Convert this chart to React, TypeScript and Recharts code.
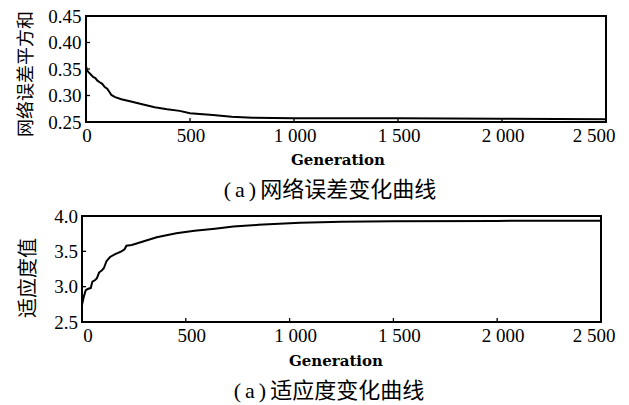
import { LineChart, Line, XAxis, YAxis, ReferenceArea } from 'recharts';

// 网络误差平方和 curve
const errGen = [0, 4, 12, 22, 34, 45, 55, 66, 78, 90, 102, 112, 122, 140, 170, 211, 275, 330, 390, 450, 500, 610, 700, 800, 900, 1000, 1250, 1500, 2000, 2500];
const errVal = [0.356, 0.348, 0.344, 0.340, 0.335, 0.333, 0.328, 0.325, 0.322, 0.316, 0.313, 0.307, 0.301, 0.297, 0.293, 0.289, 0.283, 0.278, 0.274, 0.271, 0.2665, 0.263, 0.260, 0.258, 0.2575, 0.257, 0.257, 0.257, 0.256, 0.255];

// 适应度值 curve
const fitGen = [0, 8, 18, 30, 42, 50, 62, 72, 82, 95, 105, 118, 135, 160, 190, 205, 214, 240, 294, 360, 454, 542, 640, 729, 850, 1050, 1250, 1500, 2000, 2500];
const fitVal = [2.74, 2.85, 2.95, 2.97, 2.98, 3.07, 3.09, 3.12, 3.2, 3.23, 3.26, 3.36, 3.42, 3.46, 3.5, 3.53, 3.58, 3.59, 3.64, 3.7, 3.755, 3.79, 3.82, 3.85, 3.875, 3.905, 3.918, 3.926, 3.931, 3.933];

const genTicks = [0, 500, 1000, 1500, 2000, 2500];
const errTicks = [0.25, 0.3, 0.35, 0.4, 0.45];
const fitTicks = [2.5, 3.0, 3.5, 4.0];

const errData = errGen.map((g, i) => ({ gen: g, v: errVal[i] }));
const fitData = fitGen.map((g, i) => ({ gen: g, v: fitVal[i] }));

const serif = '"Liberation Serif", "Times New Roman", serif';
const cjk = '"Noto Sans CJK SC", sans-serif';

const fmtGen = (v: number) =>
  v >= 1000 ? `${Math.floor(v / 1000)} ${String(v % 1000).padStart(3, '0')}` : String(v);

const makeXTick = (dxOther: number, dxLast: number) => (props: any) => {
  const { x, y, payload } = props;
  const dx = payload.value === 2500 ? dxLast : dxOther;
  return (
    <text x={x + dx} y={y} dy="0.71em" textAnchor="middle" fontSize={19} fontFamily={serif} fill="#000">
      {fmtGen(payload.value)}
    </text>
  );
};

const tickStyle = { fontSize: 19, fontFamily: serif, fill: '#000' };
const inTick = { stroke: '#000', strokeWidth: 1.3 };

const rotLabel = (text: string, cx: number, cy: number, size: number) => (
  <div
    style={{
      position: 'absolute',
      left: cx,
      top: cy,
      transform: 'translate(-50%, -50%) rotate(-90deg)',
      whiteSpace: 'nowrap',
      fontFamily: cjk,
      fontSize: size,
      lineHeight: 1,
      color: '#000',
    }}
  >
    {text}
  </div>
);

const centerText = (content: any, cx: number, cy: number, style: any) => (
  <div
    style={{
      position: 'absolute',
      left: cx,
      top: cy,
      transform: 'translate(-50%, -50%)',
      whiteSpace: 'nowrap',
      lineHeight: 1,
      color: '#000',
      ...style,
    }}
  >
    {content}
  </div>
);

export default function App() {
  return (
    <div style={{ position: 'absolute', left: 0, top: 0, width: 629, height: 405, background: '#fff', overflow: 'hidden' }}>
      <div style={{ position: 'absolute', left: 0, top: 0 }}>
        <LineChart width={629} height={200} data={errData} margin={{ top: 16, right: 23, bottom: 0, left: 0 }}>
          <XAxis
            dataKey="gen"
            type="number"
            domain={[0, 2500]}
            ticks={genTicks}
            interval={0}
            height={78}
            axisLine={false}
            tickSize={-4}
            tickMargin={10.5}
            tickLine={inTick}
            tick={makeXTick(1, -12)}
          />
          <YAxis
            type="number"
            domain={[0.25, 0.45]}
            ticks={errTicks}
            interval={0}
            width={86}
            axisLine={false}
            tickSize={-4}
            tickMargin={8.5}
            tickLine={inTick}
            tick={tickStyle}
            tickFormatter={(v: number) => v.toFixed(2)}
          />
          <ReferenceArea x1={0} x2={2500} y1={0.25} y2={0.45} fill="none" stroke="#000" strokeWidth={2} />
          <Line type="linear" dataKey="v" stroke="#000" strokeWidth={2} dot={false} isAnimationActive={false} />
        </LineChart>
      </div>
      <div style={{ position: 'absolute', left: 0, top: 200 }}>
        <LineChart width={629} height={200} data={fitData} margin={{ top: 16, right: 28, bottom: 0, left: 0 }}>
          <XAxis
            dataKey="gen"
            type="number"
            domain={[0, 2500]}
            ticks={genTicks}
            interval={0}
            height={78}
            axisLine={false}
            tickSize={-4}
            tickMargin={10.5}
            tickLine={inTick}
            tick={makeXTick(6, -7)}
          />
          <YAxis
            type="number"
            domain={[2.5, 4.0]}
            ticks={fitTicks}
            interval={0}
            width={82}
            axisLine={false}
            tickSize={-4}
            tickMargin={8}
            tickLine={inTick}
            tick={tickStyle}
            tickFormatter={(v: number) => v.toFixed(1)}
          />
          <ReferenceArea x1={0} x2={2500} y1={2.5} y2={4.0} fill="none" stroke="#000" strokeWidth={2} />
          <Line type="linear" dataKey="v" stroke="#000" strokeWidth={2} dot={false} isAnimationActive={false} />
        </LineChart>
      </div>

      {rotLabel('网络误差平方和', 24, 74, 18)}
      {rotLabel('适应度值', 27, 278, 20)}

      {centerText('Generation', 338, 160, { fontFamily: '"DejaVu Serif", serif', fontWeight: 'bold', fontSize: 15 })}
      {centerText('Generation', 336, 361, { fontFamily: '"DejaVu Serif", serif', fontWeight: 'bold', fontSize: 15 })}

      {centerText(
        <span>
          <span style={{ fontFamily: serif, letterSpacing: 4 }}>(a)</span>网络误差变化曲线
        </span>,
        330,
        188,
        { fontFamily: cjk, fontSize: 22 }
      )}
      {centerText(
        <span>
          <span style={{ fontFamily: serif, letterSpacing: 4 }}>(a)</span>适应度变化曲线
        </span>,
        329,
        389,
        { fontFamily: cjk, fontSize: 22 }
      )}
    </div>
  );
}
